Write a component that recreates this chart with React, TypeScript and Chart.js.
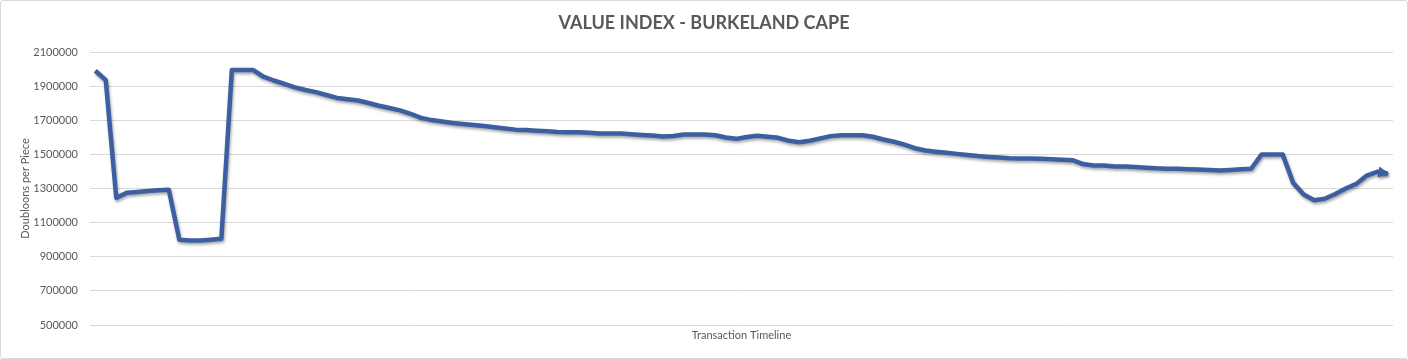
import React, { useEffect, useRef } from "react";
import { Chart, registerables } from "chart.js";

Chart.register(...registerables);

const chartTitle = "VALUE INDEX - BURKELAND CAPE";
const yAxisTitle = "Doubloons per Piece";
const xAxisTitle = "Transaction Timeline";

const priceValues: number[] = [
  1990000, 1935000, 1245000, 1275000, 1280000, 1285000, 1290000, 1293000,
  1000000, 995000, 995000, 1000000, 1005000, 1995000, 1995000, 1995000,
  1955000, 1933000, 1913000, 1893000, 1877000, 1865000, 1848000, 1831000,
  1823000, 1816000, 1801000, 1785000, 1772000, 1758000, 1738000, 1714000,
  1701000, 1693000, 1684000, 1678000, 1672000, 1666000, 1659000, 1652000,
  1645000, 1643000, 1639000, 1635000, 1631000, 1629000, 1629000, 1627000,
  1622000, 1622000, 1623000, 1618000, 1614000, 1610000, 1605000, 1608000,
  1616000, 1616000, 1616000, 1612000, 1599000, 1591000, 1602000, 1609000,
  1603000, 1597000, 1580000, 1571000, 1580000, 1594000, 1607000, 1612000,
  1612000, 1612000, 1603000, 1587000, 1574000, 1557000, 1536000, 1523000,
  1516000, 1510000, 1503000, 1497000, 1490000, 1485000, 1481000, 1477000,
  1476000, 1476000, 1474000, 1471000, 1468000, 1466000, 1443000, 1435000,
  1435000, 1429000, 1429000, 1426000, 1422000, 1418000, 1416000, 1416000,
  1413000, 1411000, 1408000, 1405000, 1409000, 1413000, 1416000, 1500000,
  1500000, 1500000, 1333000, 1265000, 1231000, 1240000, 1268000, 1300000,
  1327000, 1376000, 1398000, 1388000,
];

const transactionLabels: string[] = priceValues.map((_, i) => `Transaction ${i + 1}`);

const yMin = 500000;
const yMax = 2100000;
const yStep = 200000;

const LINE_COLOR = "#3b5fa0";
const TEXT_COLOR = "#595959";
const GRID_COLOR = "#d9d9d9";
const FONT = "Lato, 'Open Sans', sans-serif";

const shadowPlugin = {
  id: "lineShadow",
  beforeDatasetsDraw(chart: any) {
    const ctx = chart.ctx;
    ctx.save();
    ctx.shadowColor = "rgba(0,0,0,0.35)";
    ctx.shadowBlur = 3;
    ctx.shadowOffsetX = 1;
    ctx.shadowOffsetY = 2;
  },
  afterDatasetsDraw(chart: any) {
    const ctx = chart.ctx;
    const meta = chart.getDatasetMeta(0);
    const pts = meta.data;
    if (pts.length >= 2) {
      const a = pts[pts.length - 2];
      const b = pts[pts.length - 1];
      const ang = Math.atan2(b.y - a.y, b.x - a.x);
      const len = 11;
      const half = 5.5;
      const tipX = b.x + Math.cos(ang) * 1.5;
      const tipY = b.y + Math.sin(ang) * 1.5;
      const baseX = tipX - Math.cos(ang) * len;
      const baseY = tipY - Math.sin(ang) * len;
      ctx.beginPath();
      ctx.moveTo(tipX, tipY);
      ctx.lineTo(baseX + Math.cos(ang + Math.PI / 2) * half, baseY + Math.sin(ang + Math.PI / 2) * half);
      ctx.lineTo(baseX + Math.cos(ang - Math.PI / 2) * half, baseY + Math.sin(ang - Math.PI / 2) * half);
      ctx.closePath();
      ctx.fillStyle = LINE_COLOR;
      ctx.fill();
    }
    ctx.restore();
  },
};

export default function App() {
  const canvasRef = useRef<HTMLCanvasElement | null>(null);

  useEffect(() => {
    if (!canvasRef.current) return;
    const chart = new Chart(canvasRef.current, {
      type: "line",
      data: {
        labels: transactionLabels,
        datasets: [
          {
            label: chartTitle,
            data: priceValues,
            borderColor: LINE_COLOR,
            backgroundColor: LINE_COLOR,
            borderWidth: 4.5,
            pointRadius: 0,
            pointHoverRadius: 0,
            tension: 0,
            borderJoinStyle: "round",
            borderCapStyle: "butt",
            fill: false,
          },
        ],
      },
      options: {
        animation: false,
        responsive: true,
        maintainAspectRatio: false,
        layout: { padding: { left: 0, right: 0, top: 0, bottom: 0 } },
        plugins: {
          legend: { display: false },
          tooltip: { enabled: false },
          title: {
            display: true,
            text: chartTitle,
            color: TEXT_COLOR,
            font: { family: FONT, size: 18, weight: "bold", lineHeight: 1.2 },
            padding: { top: 12.2, bottom: 18.2 },
          },
        },
        scales: {
          x: {
            type: "category",
            offset: true,
            grid: { display: false, drawTicks: false },
            border: { display: false },
            ticks: { display: false },
            title: {
              display: true,
              text: xAxisTitle,
              color: TEXT_COLOR,
              font: { family: FONT, size: 11, lineHeight: 1.2 },
              padding: { top: 0, bottom: 17.4 },
            },
            afterFit: (s: any) => {
              s.height = 34;
            },
          },
          y: {
            type: "linear",
            position: "left",
            min: yMin,
            max: yMax,
            grid: { color: GRID_COLOR, lineWidth: 1, drawTicks: false },
            border: { display: false },
            ticks: {
              stepSize: yStep,
              padding: 12,
              color: TEXT_COLOR,
              font: { family: FONT, size: 11 },
              callback: (v: any) => String(v),
            },
            title: {
              display: true,
              text: yAxisTitle,
              color: TEXT_COLOR,
              font: { family: FONT, size: 11, lineHeight: 1.2 },
              padding: { top: 18.4, bottom: 0 },
            },
            afterFit: (s: any) => {
              s.width = 90;
            },
          },
          yRight: {
            type: "linear",
            position: "right",
            min: yMin,
            max: yMax,
            grid: { display: false, drawTicks: false },
            border: { display: false },
            ticks: { display: false },
            afterFit: (s: any) => {
              s.width = 15;
            },
          },
        },
      },
      plugins: [shadowPlugin],
    });
    return () => chart.destroy();
  }, []);

  return (
    <div
      style={{
        position: "fixed",
        left: 0,
        top: 0,
        width: 1408,
        height: 359,
        background: "#ffffff",
      }}
    >
      <canvas ref={canvasRef} />
      <div
        style={{
          position: "absolute",
          left: 0,
          top: 0,
          width: 1408,
          height: 359,
          boxSizing: "border-box",
          border: "1px solid #d9d9d9",
          borderRadius: 3,
          pointerEvents: "none",
        }}
      />
    </div>
  );
}
